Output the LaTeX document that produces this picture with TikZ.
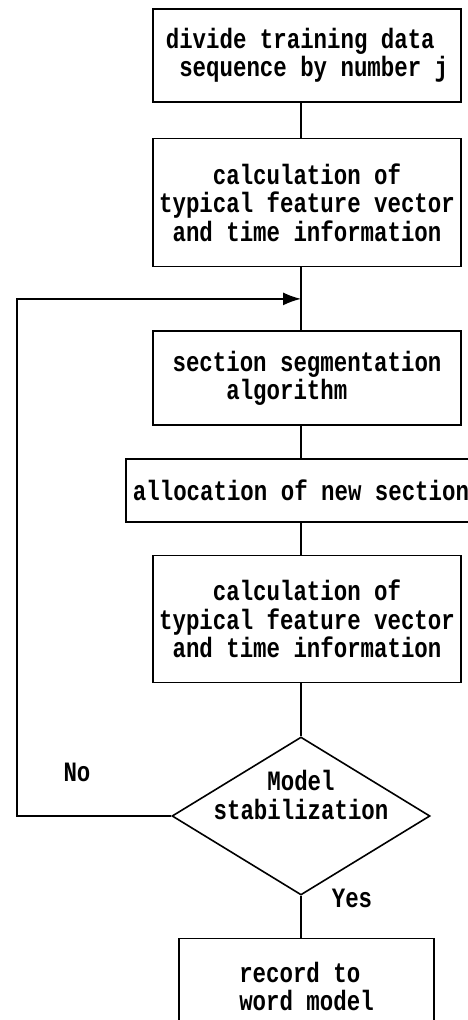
\documentclass[tikz,border=0pt]{standalone}
\usepackage{fontspec}
\setmonofont{Liberation Mono}[FakeStretch=0.8]
\usetikzlibrary{arrows.meta, shapes.geometric, positioning}

\begin{document}
\begin{tikzpicture}[x=1pt, y=1pt,
    block/.style={rectangle, draw, line width=1.6pt, minimum width=308pt, inner sep=0pt},
    decision/.style={diamond, draw, line width=1.6pt, minimum width=258pt, minimum height=158pt, aspect=1.63, inner sep=0pt},
    every node/.style={font=\fontsize{28}{28.5}\selectfont\ttfamily\bfseries}]
    \useasboundingbox (0,0) rectangle (467,1020);
    % main column of steps
    \node[block, minimum height=93pt, align=left] (b1) at (307,964.5) {divide training data\\\hphantom{s}sequence by number j};
    \node[block, minimum height=128pt, align=center] (b2) [below = 35pt of b1] {calculation of\\typical feature vector\\and time information};
    \node[block, minimum height=94pt, align=left] (b3) [below = 63pt of b2] {section segmentation\\\hphantom{sect}algorithm};
    \node[block, minimum height=63pt, minimum width=350pt] (b4) [below = 32pt of b3, xshift=-6pt] {allocation of new section};
    \node[block, minimum height=127pt, align=center] (b5) [below = 32pt of b4, xshift=6pt] {calculation of\\typical feature vector\\and time information};
    \node[decision] (d) [below = 53pt of b5, xshift=-6pt] {};
    \node[align=center] (dtext) at ([yshift=21pt]d.center) {Model\\stabilization};
    \node[block, minimum height=96pt, minimum width=255pt, align=left] (b6) [below = 42pt of d, xshift=5.5pt] {record to\\word model};

    \node (no) at (77,248) {No};
    \node (yes) at (352,122) {Yes};

    % connectors
    \draw[line width=1.6pt] (b1.south -| d.north) -- (b2.north -| d.north);
    \draw[line width=1.6pt] (b2.south -| d.north) -- (b3.north -| d.north);
    \draw[line width=1.6pt] (b3.south -| d.north) -- (b4.north -| d.north);
    \draw[line width=1.6pt] (b4.south -| d.north) -- (b5.north -| d.north);
    \draw[line width=1.6pt] (b5.south -| d.north) -- (d.north);
    \draw[line width=1.6pt] (d.south) -- (b6.north -| d.south);

    % loop back when not stable
    \coordinate (join) at ([yshift=-31.5pt]b2.south -| d.north);
    \coordinate (lp) at (17,0);
    \draw[line width=1.6pt, -{Latex[length=18pt, width=13pt]}] (d.west) -- (d.west -| lp) |- (join);
\end{tikzpicture}
\end{document}
